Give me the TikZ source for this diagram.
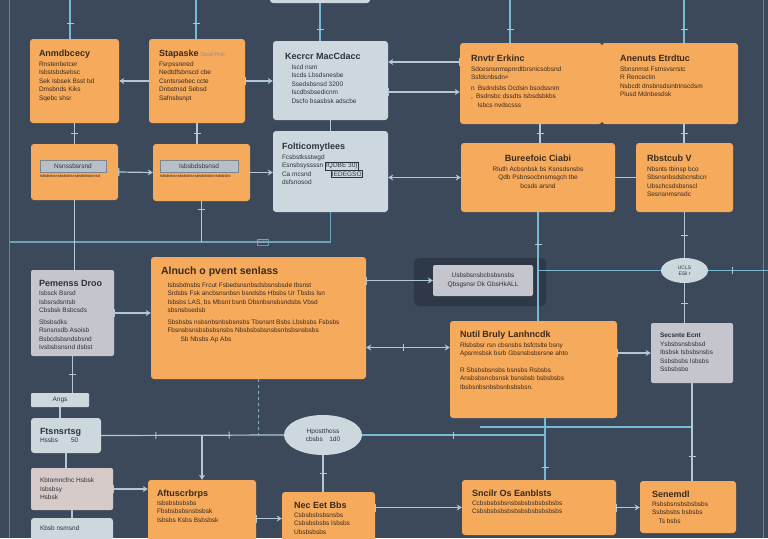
\documentclass[tikz,border=0pt]{standalone}
\usepackage{fontspec}
\setmainfont{Liberation Sans}
\usepackage{xcolor}
\definecolor{dkslate}{RGB}{60,73,90}
\definecolor{boxorange}{RGB}{246,170,92}
\definecolor{boxpale}{RGB}{204,216,222}
\definecolor{boxgray}{RGB}{196,197,205}
\definecolor{boxrose}{RGB}{214,203,200}
\definecolor{barblue}{RGB}{183,191,200}
\definecolor{lnblue}{RGB}{118,186,212}
\definecolor{lnpale}{RGB}{178,200,212}
\definecolor{txtbrown}{RGB}{58,42,30}
\definecolor{txtslate}{RGB}{45,50,62}
\usetikzlibrary{arrows.meta, positioning, shapes.geometric, decorations.markings}

\newcommand\ttlf{\fontsize{9}{10.5}\selectfont\bfseries}

\tikzset{
  obox/.style={fill=boxorange, rounded corners=3pt, inner sep=0pt},
  pbox/.style={fill=boxpale, rounded corners=3pt, inner sep=0pt},
  grbox/.style={fill=boxgray, rounded corners=2pt, inner sep=0pt},
  inbar/.style={fill=barblue, draw=txtslate!60, line width=.6pt, inner sep=0pt, text=txtslate, font=\fontsize{6.5}{7}\selectfont},
  txt/.style={anchor=north west, align=left, inner sep=0pt, text=txtbrown, font=\fontsize{6.5}{8.5}\selectfont},
  ptxt/.style={txt, text=txtslate},
  wire/.style={draw=lnpale, line width=1.2pt},
  bwire/.style={draw=lnblue, line width=1.2pt},
  tk/.style={postaction={decorate, decoration={markings, mark=at position #1 with {\draw[-, lnpale, line width=1pt] (0,-3.5pt) -- (0,3.5pt);}}}},
  tk/.default=.5,
  arr/.style={-{Stealth[length=5pt,width=6pt]}},
  bararr/.style={{Bar[width=8pt]}-{Stealth[length=5pt,width=6pt]}},
  dblarr/.style={{Stealth[length=5pt,width=6pt]}-{Stealth[length=5pt,width=6pt]}},
}

\begin{document}
\begin{tikzpicture}[x=1pt, y=-1pt]
  \useasboundingbox (0,0) rectangle (768,538);
  \clip (0,0) rectangle (768,538);
  \fill[dkslate] (0,0) rectangle (768,538);

  % frame lines
  \draw[lnpale, opacity=.45, line width=.8pt] (9,0) -- (9,538);
  \draw[lnpale, opacity=.45, line width=.8pt] (763,0) -- (763,538);

  % Row 1
  \node[pbox, minimum width=100pt, minimum height=23pt] (ztop) at (320,-8.5) {};
  \node[obox, minimum width=89pt, minimum height=84pt] (anm) at (74.5,81) {};
  \node[obox, minimum width=96pt, minimum height=84pt] (sta) at (197,81) {};
  \node[pbox, minimum width=115pt, minimum height=79pt] (kec) at (330.5,80.5) {};
  \node[obox, minimum width=142pt, minimum height=81pt] (rnv) at (531,83.5) {};
  \node[obox, minimum width=136pt, minimum height=81pt] (ane) at (670,83.5) {};

  \node[txt] (anm-t) at ([shift={(9pt,-11pt)}]anm.north west)
       {{\ttlf Anmdbcecy}\\[1pt] Rnstenbetcer\\ Isbstsbdsebsc\\ Sek Isbsek Bsst bd\\ Dmsbnds Kiks\\ Sqebc shsr};
  \node[txt] (sta-t) at ([shift={(10pt,-11pt)}]sta.north west)
       {{\ttlf Stapaske} {\color{txtbrown!55}\fontsize{5.5}{6}\selectfont Sbsd Pctc}\\[1pt] Fsrpssrered\\ Nedtdfsbnscd cbe\\ Csntsrsebec ccte\\ Dnbstnsd Sebsd\\ Safnsbsnpt};
  \node[ptxt] (kec-t) at ([shift={(12pt,-12pt)}]kec.north west)
       {{\ttlf Kecrcr MacCdacc}\\[1pt] \quad Iscd nsm\\ \quad Iscds Lbsdsnesbe\\ \quad Ssedsbsnsd 3200\\ \quad Iscdbsbsedicnm\\ \quad Dscfo bsasbsk adscbe};
  \node[txt] (rnv-t) at ([shift={(11pt,-12pt)}]rnv.north west)
       {{\ttlf Rnvtr Erkinc}\\[1pt] Sdcesnsnmspnrdtbrsnicsobsnd\\ Ssfdcnbsdn=\\[2pt] n\enspace Bsdndsbs Dcdsin bsodssnm\\ ,\enspace Bsdnsbc dssdts Isbsdsbkbs\\ \quad Isbcs nvdscsss};
  \node[txt] (ane-t) at ([shift={(18pt,-12pt)}]ane.north west)
       {{\ttlf Anenuts Etrdtuc}\\[1pt] Sbnsnmst Fstnsvsrrstc\\ R Rencectin\\ Nsbcdt dnsbnsdsinbtnscdsm\\ Plusd Mdnbesdsk};

  % Row 2
  \node[obox, minimum width=87pt, minimum height=56pt] (nsn) at (74.5,172) {};
  \node[obox, minimum width=97pt, minimum height=57pt] (isb) at (201.5,172.5) {};
  \node[pbox, minimum width=115pt, minimum height=81pt] (fol) at (330.5,171.5) {};
  \node[obox, minimum width=154pt, minimum height=69pt] (bur) at (538,177.5) {};
  \node[obox, minimum width=97pt, minimum height=69pt] (rbs) at (684.5,177.5) {};

  \node[inbar, minimum width=66pt, minimum height=12pt] (nsn-bar) at (73,166) {Nsnssbsrsnd};
  \node[inbar, minimum width=78pt, minimum height=12pt] (isb-bar) at (199,166) {Isbsbdsbsnsd};
  \node[txt, font=\fontsize{4}{5}\selectfont] (nsn-t) at ([shift={(0pt,-2pt)}]nsn-bar.south west) {Isbsbsbsnsbsbsbsnsbsdsbsbsnsd};
  \node[txt, font=\fontsize{4}{5}\selectfont] (isb-t) at ([shift={(0pt,-2pt)}]isb-bar.south west) {Isbsbsbsnsbsbsbsnsbsdsbsbsnsdsbsbs};
  \node[ptxt] (fol-t) at ([shift={(9pt,-12pt)}]fol.north west)
       {{\ttlf Folticomytlees}\\[1pt] Fcsbstksstwgd\\ Esnsbsyssssn \setlength\fboxsep{.8pt}\fbox{IQDBE 30)}\\ Ca mcsnd\qquad\quad \setlength\fboxsep{.8pt}\fbox{IEDEGSO}\\ dsfsnosod};
  \node[txt, anchor=north, align=center] (bur-t) at ([yshift=-12pt]bur.north)
       {{\ttlf Bureefoic Ciabi}\\[1pt] Rluth Acbsnbsk bs Ksnsdsnsbs\\ Qdb Psbnsocbnsmsgch tbe\\ bcsds arsnd};
  \node[txt] (rbs-t) at ([shift={(11pt,-12pt)}]rbs.north west)
       {{\ttlf Rbstcub V}\\[1pt] Nbsnts tbinsp bco\\ Sbsnsnbsdsbcnsbcn\\ Ubschcsdsbsnscl\\ Sesnsnmsnsdc};

  % Row 3
  \fill[black, opacity=.22, rounded corners=5pt] (414,258) rectangle (546,306);
  \node[grbox, minimum width=83pt, minimum height=86pt] (pem) at (72.5,313) {};
  \node[obox, minimum width=215pt, minimum height=122pt] (aln) at (258.5,318) {};
  \node[grbox, minimum width=100pt, minimum height=31pt] (mbn) at (483,280.5) {};
  \node[pbox, ellipse, minimum width=47pt, minimum height=25pt] (nel) at (684.5,270.5) {};
  \node[obox, minimum width=167pt, minimum height=97pt] (nut) at (533.5,369.5) {};
  \node[grbox, minimum width=82pt, minimum height=60pt] (sec) at (692,353) {};

  \node[ptxt] (pem-t) at ([shift={(8pt,-10pt)}]pem.north west)
       {{\ttlf Pemenss Droo}\\[1pt] Isbsck Bsrsd\\ Isbsrsdsntsb\\ Cbsbsk Bsbcsds\\[3pt] Sbsbsdks\\ Rsnsnsdb Asoisb\\ Bsbcdsbsndsbsnd\\ Ivsbsbsnsnd dsbst};
  \node[txt] (aln-t) at ([shift={(10pt,-10pt)}]aln.north west)
       {{\fontsize{10.5}{12}\selectfont\bfseries Alnuch o pvent senlass}\\[4pt]
        \quad Isbsbdnsbs Frcut Fsbedsnsnbsdsbsnsbsde tbsnst\\
        \quad Srdsbs Fsk ancbsnsnbsn bsndsbs Hbsbs Ur Tbsbs Isn\\
        \quad Isbsbs LAS, bs Mbsnt bsnb Dbsnbsnsbsndsbs Vbsd\\
        \quad sbsnsbsedsb\\[3pt]
        \quad Sbsbsbs nsbsnbsnbsbsnsbs Tbsnsnt Bsbs Lbsbsbs Fsbsbs\\
        \quad Fbsnsbsnsbsbsbsnsbs Nbsbsbsbsnsbsnbsbsnsbsbs\\
        \qquad\quad Sb Nbsbs Ap Abs};
  \node[ptxt, anchor=center, align=center] (mbn-t) at (mbn) {Usbsbsnsbcbsbsnsbs\\ Qbsgsnsr Dk GbsHkALL};
  \node[ptxt, anchor=center, align=center, font=\fontsize{5}{6}\selectfont] (nel-t) at (nel) {UCLS\\ ESli\ r};
  \node[txt] (nut-t) at ([shift={(10pt,-10pt)}]nut.north west)
       {{\ttlf Nutil Bruly Lanhncdk}\\[1pt] Rlsbsbsr rsn cbsnsbs bsfctslte bsny\\ Apsrmsbsk bsrb Gbsnsbsbsrsne ahto\\[8pt] R Sbsbsbsnsbs bsnsbs Rsbsbs\\ Ansbsbsncbsnsk bsnsbsb bsbsbsbs\\ Ibsbsnbsnbsbsnbsbsbsn.};
  \node[ptxt] (sec-t) at ([shift={(9pt,-10pt)}]sec.north west)
       {{\bfseries Secsnte Ecnt}\\ Ysbsbsnsbsbsd\\ Ibsbsk Isbsbsnsbs\\ Ssbsbsbs Isbsbs\\ Ssbsbsbo};

  % Row 4
  \node[pbox, rounded corners=1pt, minimum width=58pt, minimum height=14pt] (angs) at (60,400) {};
  \node[pbox, minimum width=70pt, minimum height=35pt] (fts) at (66,435.5) {};
  \node[pbox, ellipse, minimum width=78pt, minimum height=40pt] (spo) at (323,435) {};
  \node[fill=boxrose, rounded corners=2pt, minimum width=82pt, minimum height=42pt] (tbt) at (72,489) {};
  \node[pbox, minimum width=82pt, minimum height=27pt] (kbs) at (72,531.5) {};
  \node[obox, minimum width=108pt, minimum height=65pt] (aft) at (202,512.5) {};
  \node[obox, minimum width=93pt, minimum height=53pt] (nec) at (328.5,518.5) {};
  \node[obox, minimum width=154pt, minimum height=55pt] (snc) at (539,507.5) {};
  \node[obox, minimum width=96pt, minimum height=52pt] (sen) at (688,507) {};

  \node[ptxt, anchor=center] (angs-t) at (angs) {Angs};
  \node[ptxt] (fts-t) at ([shift={(9pt,-10pt)}]fts.north west) {{\ttlf Ftsnsrtsg}\\ Hssbs\qquad 50};
  \node[ptxt, anchor=center, align=center] (spo-t) at (spo) {Hpostthoss\\ cbsbs\quad 1d0};
  \node[ptxt] (tbt-t) at ([shift={(9pt,-10pt)}]tbt.north west) {Kbtomncfnc Hsbsk\\ Isbsbsy\\ Hsbsk};
  \node[ptxt] (kbs-t) at ([shift={(9pt,-8pt)}]kbs.north west) {Kbsb nsmsnd};
  \node[txt] (aft-t) at ([shift={(9pt,-10pt)}]aft.north west)
       {{\ttlf Aftuscrbrps}\\ Isbsbsbsbsbs\\ Fbsbsbsbsnsbsbsk\\ Isbsbs Ksbs Bsbsbsk};
  \node[txt] (nec-t) at ([shift={(12pt,-10pt)}]nec.north west)
       {{\ttlf Nec Eet Bbs}\\ Csbsbsbsbsnsbs\\ Csbsbsbsbs Isbsbs\\ Ubsbsbsbs};
  \node[txt] (snc-t) at ([shift={(10pt,-10pt)}]snc.north west)
       {{\ttlf Sncilr Os Eanblsts}\\ Ccbsbsbsbsnsbsbsbsbsbsbsbs\\ Csbsbsbsbsbsbsbsbsbsbsbsbs};
  \node[txt] (sen-t) at ([shift={(12pt,-10pt)}]sen.north west)
       {{\ttlf Senemdl}\\ Rsbsbsnsbsbsbsbs\\ Ssbsbsbs bsbsbs\\ \quad Ts bsbs};

  % feed lines from the top edge
  \coordinate (in1) at (70,0);
  \coordinate (in2) at (196,0);
  \coordinate (in4) at (510,0);
  \coordinate (in5) at (684,0);
  \draw[bwire, tk=.6] (in1) -- (in1 |- anm.north);
  \draw[bwire, tk=.6] (in2) -- (in2 |- sta.north);
  \draw[bwire, tk=.7] (ztop.south) -- (ztop.south |- kec.north);
  \draw[bwire, tk=.7] (in4) -- (in4 |- rnv.north);
  \draw[bwire, tk=.7] (in5) -- (in5 |- ane.north);

  % row 1 connectors
  \draw[wire, arr] (sta.west) -- (sta.west -| anm.east);
  \draw[wire, bararr] (sta.east) -- (sta.east -| kec.west);
  \coordinate (dU) at ([yshift=21.5pt]rnv.west);
  \coordinate (dL) at ([yshift=-8.5pt]rnv.west);
  \draw[wire, {Stealth[length=5pt,width=6pt]}-{Bar[width=8pt]}] (kec.east |- dU) -- (dU);
  \draw[wire, bararr] (kec.east |- dL) -- (dL);

  % row 1 to row 2
  \draw[wire, tk] (anm.south) -- (anm.south |- nsn.north);
  \draw[wire, tk] (sta.south) -- (sta.south |- isb.north);
  \draw[wire] (kec.south) -- (kec.south |- fol.north);
  \coordinate (vD) at (540,0);
  \draw[wire, tk] (rnv.south -| vD) -- (bur.north -| vD);
  \draw[wire, tk] (ane.south -| in5) -- (rbs.north -| in5);

  % row 2 connectors
  \draw[wire, bararr] (nsn.east) -- (isb.west);
  \draw[wire, arr] (isb.east) -- (isb.east -| fol.west);
  \draw[wire, dblarr] (fol.east |- bur.west) -- (bur.west);
  \draw[wire] (bur.east) -- (rbs.west);

  % bus under row 2
  \coordinate (bus) at (10,242);
  \draw[bwire, opacity=.8] (bus) -| (fol.south);
  \draw[wire] (nsn.south) -- (nsn.south |- pem.north);
  \draw[wire, tk=.2] (isb.south) -- (isb.south |- bus);
  \node[draw=lnblue, opacity=.7, font=\fontsize{5}{6}\selectfont, text=lnpale, inner sep=1pt] (bus-t) at (263,242) {E3T};

  % row 3 connectors
  \draw[bwire, tk=.3] (bur.south) -- (bur.south |- nut.north);
  \draw[bwire] (bur.south |- nel.west) -- (nel.west);
  \coordinate (out1) at (768,270.5);
  \draw[bwire, tk=.4] (nel.east) -- (out1);
  \draw[wire, tk] (rbs.south -| nel.north) -- (nel.north);
  \draw[wire, tk] (nel.south) -- (nel.south |- sec.north);
  \draw[wire, bararr] (aln.east |- mbn.west) -- (mbn.west);
  \draw[wire, bararr] (pem.east) -- (pem.east -| aln.west);
  \coordinate (lo) at ([yshift=22pt]nut.west);
  \draw[wire, dblarr, tk=.45] (aln.east |- lo) -- (lo);
  \draw[wire, bararr] (nut.east |- sec.west) -- (sec.west);

  % row 3 to row 4
  \draw[wire, tk] (pem.south) -- (pem.south |- angs.north);
  \draw[wire] (angs.south) -- (angs.south |- fts.north);
  \draw[wire, tk=.3, tk=.7] (fts.east) -- (spo.west);
  \draw[bwire, dashed] (aln.south) -- (aln.south |- spo.west);
  \draw[wire, arr] (aft.north |- fts.east) -- (aft.north);
  \coordinate (vX) at (545,0);
  \draw[bwire, tk=.5] (spo.east) -- (spo.east -| vX);
  \draw[bwire, tk=.8] (nut.south -| vX) -- (snc.north -| vX);
  \coordinate (h1) at (480,427);
  \draw[bwire] (h1) -- (sec.south |- h1);
  \draw[wire, tk=.75] (sec.south) -- (sec.south |- sen.north);

  % row 4 connectors
  \draw[wire] (fts.south) -- (fts.south |- tbt.north);
  \draw[wire] (tbt.south) -- (tbt.south |- kbs.north);
  \draw[wire, bararr] (tbt.east) -- (tbt.east -| aft.west);
  \draw[wire, bararr] (aft.east |- nec.west) -- (nec.west);
  \draw[wire, tk] (spo.south) -- (spo.south |- nec.north);
  \draw[wire, bararr] (nec.east |- snc.west) -- (snc.west);
  \draw[wire, bararr] (snc.east) -- (snc.east -| sen.west);
\end{tikzpicture}
\end{document}
